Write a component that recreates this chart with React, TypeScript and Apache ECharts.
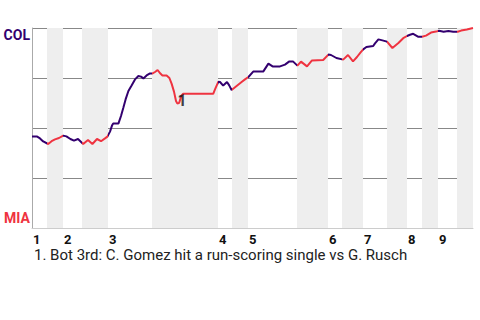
import React, { useEffect, useRef } from "react";
import * as echarts from "echarts";

const PURPLE = "#33006f";
const RED = "#ef3340";

// x: game progress (event units), v: COL win probability (%)
const progressX = [
  0, 2.6, 4, 5.6, 8.1, 9.8, 11.5, 13.5, 15.6, 17.2, 19.2, 21, 23, 25.6, 28, 30.2, 32.5, 34.5, 36.5, 37.7,
  39, 40, 40.6, 43.2, 44.5, 45.7, 46.8, 48.2, 49.8, 51.5, 53.2, 54.5, 55.7, 57.3, 59, 60.3, 61.5, 62.8,
  64.2, 65.2, 67.3, 68.7, 69.8, 71, 72, 72.7, 73.6, 74.7, 75.6, 90.6, 91.5, 93.2, 94, 95.6, 97.5, 98.6,
  99.8, 102.3, 104.8, 106.5, 108.2, 110.6, 115.6, 118.2, 120.3, 124, 126.5, 128.5, 130.6, 132.7, 134.5,
  137.5, 140, 145.6, 148.2, 149.5, 152.2, 155.6, 158, 160.5, 162.5, 164.2, 165.6, 167.2, 170.6, 171.5,
  173.2, 175.2, 177.5, 180.2, 183.2, 185.6, 187.5, 189, 190.6, 193.2, 195, 197, 199.5, 202, 203.5, 205.8,
  208.2, 210.6, 212.8, 214.6, 217.4, 220.5,
];
const colWinProb = [
  45.7, 45.7, 44.8, 43.3, 42, 43.4, 44.3, 45, 46.2, 45.8, 44.5, 43.7, 44.5, 42, 44, 42, 44.5, 43.4, 44.8, 45.7,
  48.2, 51.2, 52.2, 52.2, 56, 60.2, 64.3, 68.5, 71.3, 74.3, 76, 75.7, 74.8, 76.3, 77.3, 77.3, 78, 79,
  77.2, 76.3, 76.3, 75, 72.2, 68.2, 63.5, 62.2, 62.6, 66.2, 67.1, 67.1, 69.3, 73.2, 73, 71.2, 73, 71.3,
  69, 71, 73, 74.3, 75.5, 78.2, 78.2, 82.2, 80.8, 80.8, 81.7, 83.2, 83.2, 81.2, 83.2,
  80.8, 83.8, 84, 86.7, 86.5, 85, 84.2, 86.5, 83.3, 85.5, 87.7, 89.3, 90.5, 91, 92.3,
  94.3, 93.8, 93.2, 90, 92.5, 94.9, 96, 96.6, 97.1, 95.6, 95.6, 96.2, 97.7, 98.2, 98.6, 98.1,
  98.5, 98.1, 98.1, 98.7, 99.3, 100,
];

const inningNumbers = [1, 2, 3, 4, 5, 6, 7, 8, 9];
const topStarts = [0, 15.5, 38, 93, 108, 148, 165.5, 187.5, 203];
const bottomStarts = [7.5, 25, 60, 100, 132.5, 155, 177.5, 195, 212.5];
const gameEnd = 220.5;

const annotationX = [72.7];
const annotationY = [62.2];
const annotationLabels = ["1"];
const caption = "1. Bot 3rd: C. Gomez hit a run-scoring single vs G. Rusch";

export default function App() {
  const ref = useRef<HTMLDivElement>(null);
  useEffect(() => {
    if (!ref.current) return;
    document.body.style.margin = "0";
    const chart = echarts.init(ref.current, null, { renderer: "svg" });
    const bottomEnds = inningNumbers.map((_, i) => (i + 1 < topStarts.length ? topStarts[i + 1] : gameEnd));
    const pieces: any[] = [];
    inningNumbers.forEach((_, i) => {
      pieces.push({ gte: i === 0 ? -1 : topStarts[i], lt: bottomStarts[i], color: PURPLE });
      pieces.push({ gte: bottomStarts[i], lt: i === 8 ? gameEnd + 1 : bottomEnds[i], color: RED });
    });
    const font = "Roboto, 'Noto Sans', sans-serif";
    chart.setOption({
      animation: false,
      textStyle: { fontFamily: font },
      grid: { left: 32, top: 28, width: 441, height: 200 },
      xAxis: {
        type: "value",
        min: 0,
        max: gameEnd,
        splitLine: { show: false },
        axisTick: { show: false },
        axisLine: { show: true, lineStyle: { color: "#cccccc", width: 1 } },
        axisLabel: {
          customValues: topStarts,
          formatter: (v: number) => {
            const idx = topStarts.findIndex((s) => Math.abs(s - v) < 1e-6);
            return idx >= 0 ? String(inningNumbers[idx]) : "";
          },
          align: "left",
          padding: [0, 0, 0, 1],
          margin: 5,
          fontSize: 13,
          lineHeight: 12,
          fontWeight: "bold",
          color: "#111",
          fontFamily: font,
        },
      },
      yAxis: {
        type: "value",
        min: 0,
        max: 100,
        interval: 25,
        axisLabel: { show: false },
        axisTick: { show: false },
        axisLine: { show: true, lineStyle: { color: "#aaaaaa", width: 1 } },
        splitLine: { show: true, lineStyle: { color: "#888888", width: 1 } },
      },
      visualMap: {
        type: "piecewise",
        show: false,
        dimension: 0,
        seriesIndex: 0,
        pieces,
      },
      series: [
        {
          type: "line",
          data: progressX.map((x, i) => [x, colWinProb[i]]),
          showSymbol: false,
          lineStyle: { width: 2 },
          z: 3,
          markArea: {
            silent: true,
            itemStyle: { color: "#eeeeee" },
            data: bottomStarts.map((s, i) => [{ xAxis: s }, { xAxis: bottomEnds[i] }]),
          },
        },
        {
          type: "scatter",
          symbolSize: 0,
          z: 10,
          data: annotationX.map((x, i) => [x, annotationY[i]]),
          label: {
            show: true,
            position: "right",
            distance: 0,
            offset: [0, -3],
            formatter: (p: any) => annotationLabels[p.dataIndex],
            fontSize: 16,
            fontWeight: "bold",
            color: "#111",
            fontFamily: font,
          },
        },
      ],
      graphic: [
        {
          type: "text",
          right: 480 - 30,
          top: 28,
          style: { text: "COL", fill: PURPLE, font: `bold 14px ${font}`, textAlign: "right" },
        },
        {
          type: "text",
          right: 480 - 30,
          top: 211,
          style: { text: "MIA", fill: RED, font: `bold 14px ${font}`, textAlign: "right" },
        },
        {
          type: "text",
          left: 34,
          top: 247,
          style: { text: caption, fill: "#222", font: `15px ${font}`, lineHeight: 15 },
        },
      ],
    });
    return () => chart.dispose();
  }, []);
  return <div ref={ref} style={{ width: 480, height: 320 }} />;
}
